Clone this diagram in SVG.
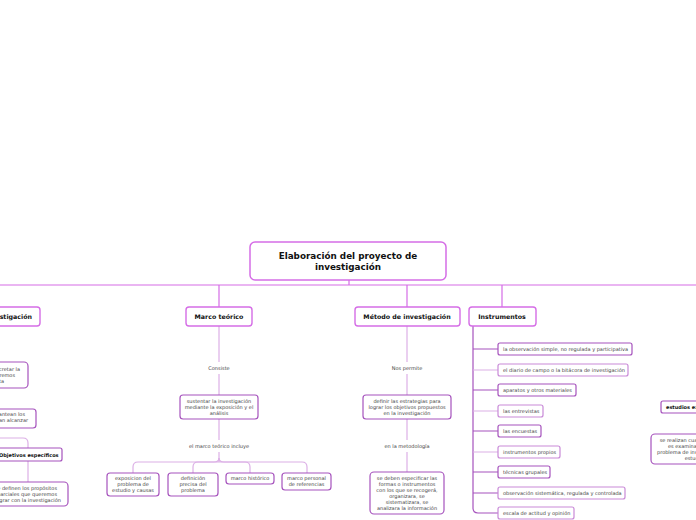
<svg xmlns="http://www.w3.org/2000/svg" width="696" height="520" viewBox="0 0 696 520">
<style>
text{font-family:"DejaVu Sans","Verdana",sans-serif;}
.root{fill:#fff;stroke:#d56de6;stroke-width:1.5;}
.main{fill:#fff;stroke:#d56de6;stroke-width:1.4;}
.dk{fill:#fff;stroke:#a653bd;stroke-width:1.2;}
.lt{fill:#fff;stroke:#c98ad8;stroke-width:1.2;}
.tr{font-size:8.8px;font-weight:bold;fill:#111;text-anchor:middle;}
.tm{font-size:6.3px;font-weight:bold;fill:#111;text-anchor:middle;}
.tb{font-size:5px;font-weight:bold;fill:#111;}
.ts{font-size:5px;fill:#444;text-anchor:middle;}
.tl{font-size:5px;fill:#444;}
.cp{fill:none;stroke:#d56de6;stroke-width:1.2;}
.cd{fill:none;stroke:#a653bd;stroke-width:1.2;}
.cl{fill:none;stroke:#dcb0e6;stroke-width:1.2;}
.lab{font-size:5px;fill:#444;text-anchor:middle;}
</style>
<rect width="696" height="520" fill="#fff"/>
<g id="connectors">
<path class="cp" d="M349,280 V285 M0,285 H696 M219,285 V307 M407,285 V307 M502,285 V307"/>
<path class="cl" d="M219,326 V362 M219,374 V395 M219,419 V440 M219,452 V462"/>
<path class="cl" d="M219,458 Q219,462 214,462 H138 Q133,462 133,467 V473"/>
<path class="cl" d="M219,462 H198 Q193,462 193,467 V473"/>
<path class="cl" d="M219,462 H245 Q250,462 250,467 V473"/>
<path class="cl" d="M219,458 Q219,462 224,462 H302 Q307,462 307,467 V473"/>
<path class="cl" d="M407,326 V362 M407,374 V395 M407,419 V440 M407,452 V472"/>
<path class="cd" d="M473,326 V508 Q473,513 478,513 H498"/>
<path class="cd" d="M473,349 H498 M473,390 H498 M473,431 H498 M473,472 H498 M473,493 H498"/>
<path class="cl" d="M473,370 H498 M473,411 H498 M473,452 H498"/>
<path class="cl" d="M0,438 H23 Q28,438 28,443 V448 M28,461 V482"/>
</g>
<g id="root">
<rect class="root" x="250" y="242" width="196" height="38" rx="5"/>
<text class="tr" x="348" y="259">Elaboración del proyecto de</text>
<text class="tr" x="348" y="270">investigación</text>
</g>
<g id="n-objetivos">
<rect class="main" x="-60" y="307" width="100" height="19" rx="3"/>
<text class="tm" x="32" y="319" style="text-anchor:end">investigación</text>
</g>
<g id="n-marco">
<rect class="main" x="186" y="307" width="66" height="19" rx="3"/>
<text class="tm" x="219" y="319">Marco teórico</text>
</g>
<g id="n-metodo">
<rect class="main" x="355" y="307" width="105" height="19" rx="3"/>
<text class="tm" x="407" y="319">Método de investigación</text>
</g>
<g id="n-instrumentos">
<rect class="main" x="469" y="307" width="67" height="19" rx="3"/>
<text class="tm" x="502" y="319">Instrumentos</text>
</g>
<g id="lab-consiste"><text class="lab" x="219" y="370">Consiste</text></g>
<g id="n-sustentar">
<rect class="dk" x="180" y="395" width="78" height="24" rx="3"/>
<text class="ts" x="219" y="403">sustentar la investigación</text>
<text class="ts" x="219" y="409">mediante la exposición y el</text>
<text class="ts" x="219" y="415">análisis</text>
</g>
<g id="lab-incluye"><text class="lab" x="219" y="448">el marco teórico incluye</text></g>
<g id="n-exposicion">
<rect class="dk" x="107" y="473" width="52" height="23" rx="3"/>
<text class="ts" x="133" y="480">exposicion del</text>
<text class="ts" x="133" y="486">problema de</text>
<text class="ts" x="133" y="492">estudio y causas</text>
</g>
<g id="n-definicion">
<rect class="dk" x="168" y="473" width="50" height="23" rx="3"/>
<text class="ts" x="193" y="480">definición</text>
<text class="ts" x="193" y="486">precisa del</text>
<text class="ts" x="193" y="492">problema</text>
</g>
<g id="n-historico">
<rect class="dk" x="226" y="473" width="48" height="11" rx="3"/>
<text class="ts" x="250" y="480">marco histórico</text>
</g>
<g id="n-personal">
<rect class="dk" x="282" y="473" width="49" height="17" rx="3"/>
<text class="ts" x="306.5" y="480">marco personal</text>
<text class="ts" x="306.5" y="486">de referencias</text>
</g>
<g id="lab-permite"><text class="lab" x="407" y="370">Nos permite</text></g>
<g id="n-definir">
<rect class="dk" x="363" y="395" width="88" height="24" rx="3"/>
<text class="ts" x="407" y="403">definir las estrategias para</text>
<text class="ts" x="407" y="409">lograr los objetivos propuestos</text>
<text class="ts" x="407" y="415">en la investigación</text>
</g>
<g id="lab-metodologia"><text class="lab" x="407" y="448">en la metodología</text></g>
<g id="n-especificar">
<rect class="dk" x="370" y="472" width="74" height="42" rx="4"/>
<text class="ts" x="407" y="480">se deben especificar las</text>
<text class="ts" x="407" y="486">formas o instrumentos</text>
<text class="ts" x="407" y="492">con los que se recogerá,</text>
<text class="ts" x="407" y="498">organizara, se</text>
<text class="ts" x="407" y="504">sistematizara, se</text>
<text class="ts" x="407" y="510">analizara la información</text>
</g>
<g id="i1"><rect class="dk" x="498" y="343" width="134" height="12" rx="2"/><text class="tl" x="503" y="351">la observación simple, no regulada y participativa</text></g>
<g id="i2"><rect class="lt" x="498" y="364" width="130" height="12" rx="2"/><text class="tl" x="503" y="372">el diario de campo o la bitácora de investigación</text></g>
<g id="i3"><rect class="dk" x="498" y="384" width="78" height="12" rx="2"/><text class="tl" x="503" y="392">aparatos y otros materiales</text></g>
<g id="i4"><rect class="lt" x="498" y="405" width="45" height="12" rx="2"/><text class="tl" x="503" y="413">las entrevistas</text></g>
<g id="i5"><rect class="dk" x="498" y="425" width="43" height="12" rx="2"/><text class="tl" x="503" y="433">las encuestas</text></g>
<g id="i6"><rect class="lt" x="498" y="446" width="62" height="12" rx="2"/><text class="tl" x="503" y="454">instrumentos propios</text></g>
<g id="i7"><rect class="dk" x="498" y="466" width="52" height="12" rx="2"/><text class="tl" x="503" y="474">técnicas grupales</text></g>
<g id="i8"><rect class="lt" x="498" y="487" width="127" height="12" rx="2"/><text class="tl" x="503" y="495">observación sistemática, regulada y controlada</text></g>
<g id="i9"><rect class="lt" x="498" y="507" width="76" height="12" rx="2"/><text class="tl" x="503" y="515">escala de actitud y opinión</text></g>
<g id="n-exploratorios">
<rect class="dk" x="661" y="401" width="80" height="12" rx="2"/>
<text class="tb" x="666" y="409">estudios exploratorios</text>
</g>
<g id="n-realizan">
<rect class="dk" x="651" y="434" width="92" height="30" rx="4"/>
<text class="ts" x="697" y="442">se realizan cuando el objetivo</text>
<text class="ts" x="697" y="448">es examinar un tema o</text>
<text class="ts" x="697" y="454">problema de investigación poco</text>
<text class="ts" x="697" y="460">estudiado</text>
</g>
<g id="n-left1">
<rect class="dk" x="-60" y="362" width="88" height="26" rx="4"/>
<text class="tl" x="20" y="371" style="text-anchor:end">concretar la</text>
<text class="tl" x="15" y="377" style="text-anchor:end">queremos</text>
<text class="tl" x="4" y="383" style="text-anchor:end">la meta</text>
</g>
<g id="n-left2">
<rect class="dk" x="-60" y="409" width="96" height="19" rx="3"/>
<text class="tl" x="25" y="416" style="text-anchor:end">plantean los</text>
<text class="tl" x="28" y="422" style="text-anchor:end">desean alcanzar</text>
</g>
<g id="n-especificos">
<rect class="dk" x="-20" y="448" width="82" height="13" rx="2"/>
<text class="tb" x="-1" y="457">Objetivos específicos</text>
</g>
<g id="n-left4">
<rect class="dk" x="-40" y="482" width="108" height="24" rx="4"/>
<text class="tl" x="57" y="490" style="text-anchor:end">Se definen los propósitos</text>
<text class="tl" x="57" y="496" style="text-anchor:end">parciales que queremos</text>
<text class="tl" x="61" y="502" style="text-anchor:end">lograr con la investigación</text>
</g>
</svg>
